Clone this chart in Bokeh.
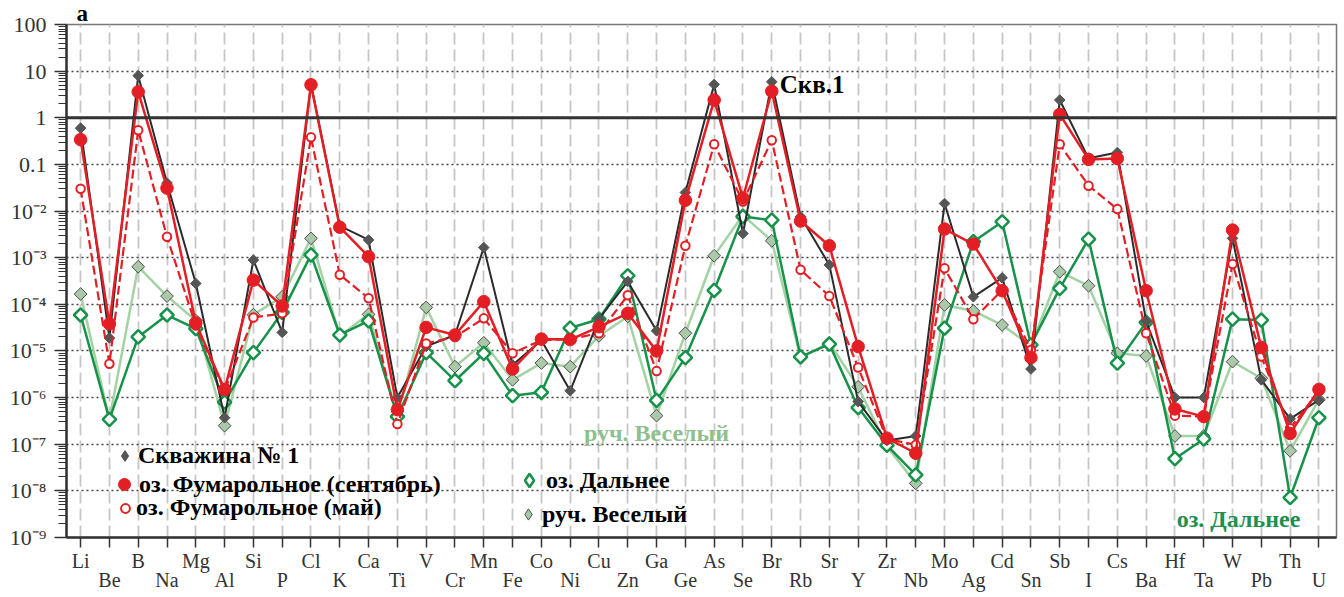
import numpy as np
from bokeh.plotting import figure
from bokeh.models import (FixedTicker, LinearAxis, Span, Label, Legend, LegendItem,
                          ColumnDataSource)
from bokeh.embed import file_html
from bokeh.resources import INLINE

# ---- data -------------------------------------------------------------
elements = ["Li", "Be", "B", "Na", "Mg", "Al", "Si", "P", "Cl", "K", "Ca", "Ti", "V", "Cr",
            "Mn", "Fe", "Co", "Ni", "Cu", "Zn", "Ga", "Ge", "As", "Se", "Br", "Rb", "Sr", "Y",
            "Zr", "Nb", "Mo", "Ag", "Cd", "Sn", "Sb", "I", "Cs", "Ba", "Hf", "Ta", "W", "Pb",
            "Th", "U"]

well_1 = [0.6, 1.9e-5, 8.0, 0.04, 2.8e-4, 3.7e-7, 8.9e-4, 2.5e-5, 5.3, 4.8e-3, 2.4e-3, 1.0e-6,
          1.25e-5, 2.2e-5, 1.65e-3, 5.0e-6, 1.7e-5, 1.4e-6, 4.9e-5, 3.1e-4, 2.7e-5, 0.025, 5.2,
          3.3e-3, 5.9, 7.6e-3, 7.0e-4, 8.2e-7, 1.2e-7, 1.5e-7, 0.0145, 1.45e-4, 3.7e-4, 4.1e-6,
          2.4, 0.135, 0.18, 4.3e-5, 1.0e-6, 1.0e-6, 2.6e-3, 2.4e-6, 3.5e-7, 8.9e-7]

fum_sep = [0.34, 3.8e-5, 3.6, 0.031, 4.0e-5, 1.5e-6, 3.3e-4, 9.2e-5, 5.1, 4.5e-3, 1.05e-3, 5.5e-7,
           3.2e-5, 2.2e-5, 1.14e-4, 4.1e-6, 1.8e-5, 1.75e-5, 3.3e-5, 6.4e-5, 1.0e-5, 0.017, 2.4,
           0.019, 3.7, 6.1e-3, 1.8e-3, 1.24e-5, 1.35e-7, 6.4e-8, 4.1e-3, 1.96e-3, 1.96e-4, 7.2e-6,
           1.18, 0.128, 0.134, 1.96e-4, 5.7e-7, 3.9e-7, 3.9e-3, 1.18e-5, 1.7e-7, 1.5e-6]

fum_may = [0.03, 5.3e-6, 0.54, 2.8e-3, 3.5e-5, 1.4e-6, 5.2e-5, 6.4e-5, 0.38, 4.3e-4, 1.35e-4, 2.7e-7,
           1.45e-5, 2.0e-5, 5.0e-5, 8.9e-6, 1.7e-5, 1.8e-5, 2.4e-5, 1.56e-4, 3.7e-6, 1.8e-3, 0.27,
           0.016, 0.33, 5.5e-4, 1.5e-4, 4.4e-6, 1.3e-7, 9.7e-8, 5.9e-4, 4.8e-5, 2.0e-4, 1.05e-5,
           0.27, 0.035, 0.011, 2.4e-5, 4.1e-7, 3.9e-7, 7.3e-4, 7.6e-6, 2.2e-7, 1.4e-6]

dalnee = [5.9e-5, 3.4e-7, 2.0e-5, 5.9e-5, 3.0e-5, 8.0e-7, 9.2e-6, 6.7e-5, 1.15e-3, 2.2e-5, 4.4e-5,
          3.9e-7, 9.2e-6, 2.3e-6, 8.9e-6, 1.1e-6, 1.3e-6, 3.1e-5, 4.8e-5, 4.1e-4, 8.7e-7, 7.2e-6,
          2.0e-4, 7.6e-3, 6.4e-3, 7.5e-6, 1.4e-5, 6.1e-7, 9.5e-8, 2.2e-8, 3.1e-5, 2.2e-3, 5.9e-3,
          1.35e-5, 2.2e-4, 2.5e-3, 5.5e-6, 4.1e-5, 4.9e-8, 1.3e-7, 4.8e-5, 4.6e-5, 7.2e-9, 3.7e-7]

veselyi = [1.66e-4, 3.4e-7, 6.4e-4, 1.5e-4, 4.5e-5, 2.5e-7, 6.0e-5, 1.45e-4, 2.6e-3, 2.1e-5, 6.1e-5,
           4.2e-7, 8.6e-5, 4.6e-6, 1.5e-5, 2.4e-6, 5.5e-6, 4.6e-6, 2.1e-5, 5.5e-5, 4.1e-7, 2.4e-5,
           1.1e-3, 8.2e-3, 2.3e-3, 7.2e-6, 1.5e-5, 1.7e-6, 9.0e-8, 1.45e-8, 9.7e-5, 7.2e-5, 3.6e-5,
           1.3e-5, 5.0e-4, 2.5e-4, 8.9e-6, 7.8e-6, 1.5e-7, 1.5e-7, 5.9e-6, 2.6e-6, 7.2e-8, 9.0e-7]

series_names = ["Скважина № 1", "оз. Фумарольное (сентябрь)", "оз. Фумарольное (май)",
                "оз. Дальнее", "руч. Веселый"]

y_exponents = list(range(-9, 3))
y_tick_labels = ["10⁻⁹", "10⁻⁸", "10⁻⁷", "10⁻⁶", "10⁻⁵", "10⁻⁴", "10⁻³", "10⁻²",
                 "0.1", "1", "10", "100"]

# ---- figure -----------------------------------------------------------
SERIF = "Liberation Serif"
idx = list(range(len(elements)))

p = figure(width=1344, height=597, x_range=(-0.49, 43.61), y_range=(1e-9, 100),
           y_axis_type="log", output_backend="svg", toolbar_location=None,
           min_border_left=66, min_border_right=8, min_border_top=24, min_border_bottom=60)
p.background_fill_color = "white"
p.border_fill_color = "white"
p.outline_line_color = "#777777"
p.outline_line_width = 1.5

# panel letter
p.title.text = "a"
p.title.align = "left"
p.title.offset = 10
p.title.standoff = -3
p.title.text_font = SERIF
p.title.text_font_style = "bold"
p.title.text_font_size = "23px"
p.title.text_color = "black"

# grids
p.xgrid.ticker = FixedTicker(ticks=idx)
p.xgrid.grid_line_color = "#c6c6c6"
p.xgrid.grid_line_width = 1.8
p.xgrid.grid_line_dash = "12 5"

y_ticks = [float("1e%d" % e) for e in y_exponents]
y_minor = [float("%de%d" % (k, e)) for e in y_exponents[:-1] for k in range(2, 10)]
p.ygrid.ticker = FixedTicker(ticks=y_ticks)
p.ygrid.grid_line_color = "#444444"
p.ygrid.grid_line_width = 1.5
p.ygrid.grid_line_dash = "2 3"

# y axis
ya = p.yaxis[0]
ya.ticker = FixedTicker(ticks=y_ticks, minor_ticks=y_minor)
ya.major_label_overrides = {t: s for t, s in zip(y_ticks, y_tick_labels)}
ya.major_label_text_font = SERIF
ya.major_label_text_font_size = "22px"
ya.major_label_text_color = "#333333"
ya.major_label_standoff = 8
ya.axis_line_color = "#333333"
ya.axis_line_width = 2.5
ya.major_tick_line_color = "#333333"
ya.major_tick_line_width = 1.5
ya.major_tick_out = 12
ya.major_tick_in = 0
ya.minor_tick_line_color = "#333333"
ya.minor_tick_line_width = 1.2
ya.minor_tick_out = 8
ya.minor_tick_in = 0

# x axis: two staggered rows of element labels
xa = p.xaxis[0]
xa.ticker = FixedTicker(ticks=idx)
xa.major_label_overrides = {i: (el if i % 2 == 0 else "") for i, el in enumerate(elements)}
xa.minor_tick_line_color = None
xa.axis_line_color = "#333333"
xa.axis_line_width = 2.5
xa.major_tick_line_color = "#333333"
xa.major_tick_line_width = 1.5
xa.major_tick_out = 10
xa.major_tick_in = 0
xa.major_label_standoff = 2
xa.major_label_text_font = SERIF
xa.major_label_text_font_size = "20px"
xa.major_label_text_color = "#333333"

odd_idx = [i for i in idx if i % 2 == 1]
xa2 = LinearAxis(ticker=FixedTicker(ticks=odd_idx),
                 major_label_overrides={i: elements[i] for i in odd_idx},
                 axis_line_color=None, major_tick_line_color=None, minor_tick_line_color=None,
                 major_tick_out=0, major_tick_in=0, major_label_standoff=-6,
                 major_label_text_font=SERIF, major_label_text_font_size="20px",
                 major_label_text_color="#333333")
p.add_layout(xa2, "below")

# reference level 1
p.add_layout(Span(location=1, dimension="width", line_color="#333333", line_width=3))

# ---- series -----------------------------------------------------------
src = ColumnDataSource(dict(x=idx, well_1=well_1, fum_sep=fum_sep, fum_may=fum_may,
                            dalnee=dalnee, veselyi=veselyi))
DIAMOND = np.pi / 4

RED = "#e31e24"
GREEN = "#17924a"
LGREEN = "#a3d2a3"

# руч. Веселый
p.line("x", "veselyi", source=src, line_color=LGREEN, line_width=2.5)
p.scatter("x", "veselyi", source=src, marker="square", angle=DIAMOND, size=9,
          fill_color="#a9c9a9", line_color="#4d4d4d", line_width=1)
# оз. Дальнее
p.line("x", "dalnee", source=src, line_color=GREEN, line_width=2.5)
p.scatter("x", "dalnee", source=src, marker="square", angle=DIAMOND, size=9.5,
          fill_color="white", line_color=GREEN, line_width=2.5)
# Скважина № 1
p.line("x", "well_1", source=src, line_color="#2b2b2b", line_width=2)
p.scatter("x", "well_1", source=src, marker="square", angle=DIAMOND, size=7.5,
          fill_color="#555555", line_color="#555555", line_width=1)
# оз. Фумарольное (май)
p.line("x", "fum_may", source=src, line_color=RED, line_width=2.2, line_dash="9 4")
p.scatter("x", "fum_may", source=src, marker="circle", size=8.5,
          fill_color="white", line_color=RED, line_width=2)
# оз. Фумарольное (сентябрь)
p.line("x", "fum_sep", source=src, line_color=RED, line_width=2.5)
p.scatter("x", "fum_sep", source=src, marker="circle", size=12.5,
          fill_color=RED, line_color=RED, line_width=1)

# ---- legend (marker-only keys) ----------------------------------------
key_styles = [
    dict(marker="diamond", fill_color="#555555", line_color="#555555", line_width=1),
    dict(marker="circle", fill_color=RED, line_color=RED, line_width=1),
    dict(marker="circle", fill_color="white", line_color=RED, line_width=2),
    dict(marker="diamond", fill_color="white", line_color=GREEN, line_width=2.5),
    dict(marker="diamond", fill_color="#a9c9a9", line_color="#4d4d4d", line_width=1),
]
# (glyph box, label standoff, location) for each key
key_layout = [
    (27, -3, (45, 68)),
    (30, -5, (43, 38)),
    (22, -2, (48, 16)),
    (34, -3, (446, 40)),
    (28, 0, (448, 9)),
]
for name, style, (g, standoff, loc) in zip(series_names, key_styles, key_layout):
    # key-only renderer: a single NaN point, so nothing is drawn inside the frame
    r = p.scatter(x=[np.nan], y=[np.nan], **style)
    leg = Legend(items=[LegendItem(label=name, renderers=[r])], location=loc,
                 glyph_width=g, glyph_height=g, label_height=g, label_standoff=standoff,
                 padding=0, margin=0, spacing=0, border_line_color=None,
                 background_fill_alpha=0, label_text_font=SERIF,
                 label_text_font_style="bold", label_text_font_size="24px",
                 label_text_color="black")
    p.add_layout(leg)

# ---- annotations ------------------------------------------------------
p.add_layout(Label(x=24, y=well_1[24], text="Скв.1", x_offset=8, y_offset=-3,
                   text_baseline="middle", text_font=SERIF, text_font_style="bold",
                   text_font_size="25px", text_color="black"))
p.add_layout(Label(x=20, y=10 ** -6.76, text="руч. Веселый", text_align="center",
                   text_baseline="middle", text_font=SERIF, text_font_style="bold",
                   text_font_size="24px", text_color="#8fbf8f"))
p.add_layout(Label(x=40, y=10 ** -8.6, text="оз. Дальнее", x_offset=6, text_align="center",
                   text_baseline="middle", text_font=SERIF, text_font_style="bold",
                   text_font_size="24px", text_color="#1f8f4f"))

open("out.html", "w").write(file_html(p, INLINE))
